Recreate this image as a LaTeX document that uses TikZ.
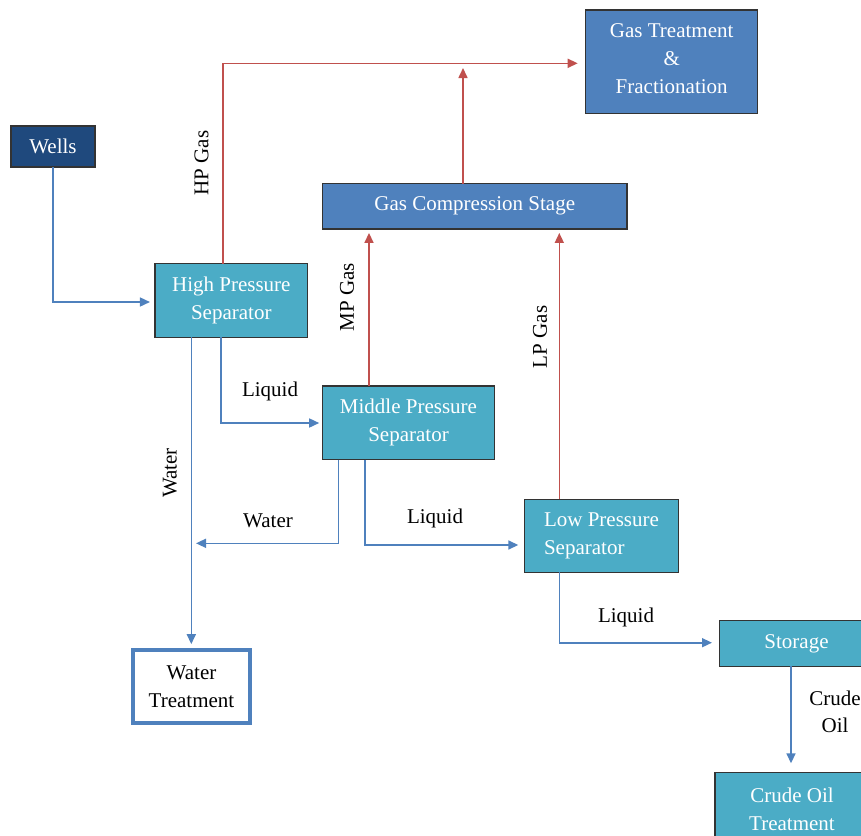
\documentclass[tikz,border=0pt]{standalone}
\usepackage{fontspec}
\setmainfont{Liberation Serif}
\usetikzlibrary{arrows.meta}
\definecolor{navyfill}{HTML}{1F497D}
\definecolor{midfill}{HTML}{4F81BD}
\definecolor{sepfill}{HTML}{4BACC6}
\definecolor{redflow}{HTML}{C0504D}
\definecolor{blueflow}{HTML}{4F81BD}
\tikzset{
  box/.style={rectangle, draw=black!80, line width=1.2pt, text=white, align=center,
    inner sep=0pt, outer sep=0pt, font=\fontsize{21}{28}\selectfont},
  lbl/.style={font=\fontsize{21}{27}\selectfont, inner sep=0pt, align=center, text=black},
  bflow/.style={draw=blueflow, line width=1.6pt, -{Triangle[length=10pt,width=9pt]}},
  rflow/.style={draw=redflow, line width=1.6pt, -{Triangle[length=10pt,width=9pt]}},
}
\begin{document}
\begin{tikzpicture}[x=1pt,y=-1pt]
\useasboundingbox (0,0) rectangle (861,835);
\clip (0,0) rectangle (861,835);
% nodes
\node[box, fill=navyfill, minimum width=84pt, minimum height=41pt] (wells) at (53,146.5) {Wells};
\node[box, fill=midfill, minimum width=172pt, minimum height=103.7pt] (gtf) at (671.7,61.8) {\raisebox{0pt}{}Gas Treatment\\\&\\Fractionation\rule[-6pt]{0pt}{0pt}};
\node[box, fill=midfill, minimum width=304.3pt, minimum height=45.3pt] (gcs) at (474.8,206.3) {Gas Compression Stage};
\node[box, fill=sepfill, minimum width=152.7pt, minimum height=73.3pt] (hp) at (231.3,300.5) {High Pressure\\Separator};
\node[box, fill=sepfill, minimum width=171.6pt, minimum height=73.7pt] (mps) at (408.5,422.8) {Middle Pressure\\Separator};
\node[box, fill=sepfill, align=left, minimum width=154.4pt, minimum height=73pt] (lps) at (601.5,535.8) {Low Pressure\\Separator};
\node[box, fill=sepfill, minimum width=154pt, minimum height=45.6pt] (sto) at (796.5,643.5) {Storage};
\node[box, fill=sepfill, minimum width=154pt, minimum height=74pt] (cot) at (792,809.3) {Crude Oil\\Treatment};
\node[box, fill=white, text=black, draw=blueflow, line width=4pt, minimum width=117.6pt, minimum height=73.3pt] (wt) at (191.5,686.3) {Water\\Treatment};
% helper coordinates
\coordinate (wl) at (53,302);
\coordinate (hpg) at (222.7,63.3);
\coordinate (gcu) at (463,68);
\coordinate (mpg) at (369,233);
\coordinate (lpg) at (559.3,233);
\coordinate (hpl) at (220.7,423);
\coordinate (hpw) at (191.3,642);
\coordinate (mpw) at (338.3,543.3);
\coordinate (mpwend) at (196,543.3);
\coordinate (mpl) at (365,545);
\coordinate (lpl) at (559.3,642.7);
\coordinate (stoc) at (791,666);
% connectors
\draw[bflow, shorten >=5pt] (wells.south -| wl) -- (wl) -- (hp.west |- wl);
\draw[rflow, shorten >=8pt] (hp.north -| hpg) -- (hpg) -- (gtf.west |- hpg);
\draw[rflow] (gcs.north -| gcu) -- (gcu);
\draw[rflow, shorten >=4pt] (mps.north -| mpg) -- (gcs.south -| mpg);
\draw[rflow, shorten >=4pt] (lps.north -| lpg) -- (gcs.south -| lpg);
\draw[bflow, shorten >=3.5pt] (hp.south -| hpl) -- (hpl) -- (mps.west |- hpl);
\draw[bflow, shorten >=5.5pt] (hp.south -| hpw) -- (wt.north -| hpw);
\draw[bflow] (mps.south -| mpw) -- (mpw) -- (mpwend);
\draw[bflow, shorten >=6pt] (mps.south -| mpl) -- (mpl) -- (lps.west |- mpl);
\draw[bflow, shorten >=7.5pt] (lps.south -| lpl) -- (lpl) -- (sto.west |- lpl);
\draw[bflow, shorten >=9pt] (sto.south -| stoc) -- (cot.north -| stoc);
% labels
\node[lbl, rotate=90] (lhpg) at (201.5,163) {HP Gas};
\node[lbl, rotate=90] (lmpg) at (347,297) {MP Gas};
\node[lbl, rotate=90] (llpg) at (540,337) {LP Gas};
\node[lbl, rotate=90] (lhpw) at (170,473) {Water};
\node[lbl] (lhpl) at (270,391) {Liquid};
\node[lbl] (lmpw) at (268,520.5) {Water};
\node[lbl] (lmpl) at (435,518) {Liquid};
\node[lbl] (llpl) at (626,617) {Liquid};
\node[lbl] (lco) at (835,712) {Crude\\Oil};
\end{tikzpicture}
\end{document}
